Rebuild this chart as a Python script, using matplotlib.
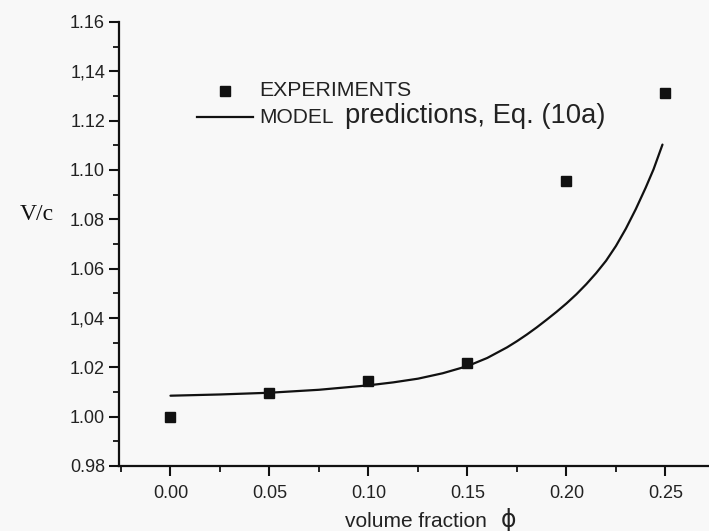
import matplotlib
matplotlib.use("Agg")
import matplotlib.pyplot as plt
from matplotlib.lines import Line2D
from matplotlib.ticker import MultipleLocator

# ---- data ----
exp_phi = [0.00, 0.05, 0.10, 0.15, 0.20, 0.25]
exp_vc = [1.000, 1.0096, 1.0145, 1.0216, 1.0955, 1.1313]

model_phi = [0.0, 0.025, 0.05, 0.075, 0.10, 0.1125, 0.125, 0.1375, 0.15, 0.16,
             0.17, 0.175, 0.18, 0.185, 0.19, 0.195, 0.20, 0.205, 0.21, 0.215,
             0.22, 0.225, 0.23, 0.235, 0.24, 0.244, 0.2485]
model_vc = [1.0085, 1.0090, 1.0097, 1.0109, 1.0127, 1.0139, 1.0154, 1.0176,
            1.0205, 1.0238, 1.0281, 1.0306, 1.0333, 1.0362, 1.0393, 1.0425,
            1.0459, 1.0496, 1.0537, 1.0582, 1.0632, 1.0692, 1.0762, 1.0841,
            1.0928, 1.1003, 1.1103]

x_ticks = [0.00, 0.05, 0.10, 0.15, 0.20, 0.25]
x_ticklabels = ["0.00", "0.05", "0.10", "0.15", "0.20", "0.25"]
y_ticks = [0.98, 1.00, 1.02, 1.04, 1.06, 1.08, 1.10, 1.12, 1.14, 1.16]
y_ticklabels = ["0.98", "1.00", "1.02", "1,04", "1.06", "1.08", "1.10", "1.12", "1,14", "1.16"]

W, H = 709, 531
bg = "#f8f8f8"
fig = plt.figure(figsize=(W / 100, H / 100), dpi=100, facecolor=bg)

def fx(px):
    return px / W

def fy(py):
    return 1 - py / H

ax = fig.add_axes([fx(119), fy(466), 1 - fx(119), fy(22) - fy(466)])
ax.set_facecolor(bg)
ax.set_xlim(-0.026, 0.272)
ax.set_ylim(0.98, 1.16)

for s in ["top", "right"]:
    ax.spines[s].set_visible(False)
for s in ["left", "bottom"]:
    ax.spines[s].set_linewidth(1.6)
    ax.spines[s].set_color("#111111")

ax.plot(model_phi, model_vc, color="#111111", lw=1.6, solid_capstyle="round",
        solid_joinstyle="round")
ax.plot(exp_phi, exp_vc, linestyle="none", marker="s", ms=6.5, color="#111111")

ax.set_xticks(x_ticks)
ax.set_xticklabels(x_ticklabels)
ax.set_yticks(y_ticks)
ax.set_yticklabels(y_ticklabels)
ax.xaxis.set_minor_locator(MultipleLocator(0.025))
ax.yaxis.set_minor_locator(MultipleLocator(0.01))
ax.tick_params(axis="both", which="major", direction="out", length=7, width=1.5,
               color="#111111", labelsize=13, labelcolor="#222222")
ax.tick_params(axis="both", which="minor", direction="out", length=4, width=1.3,
               color="#111111")
ax.tick_params(axis="x", which="major", pad=7)
ax.tick_params(axis="y", which="major", pad=3)
for lab in ax.get_xticklabels() + ax.get_yticklabels():
    lab.set_family("Liberation Sans")

# axis labels
fig.text(fx(37), fy(215), "V/c", family="Liberation Serif", fontsize=17,
         ha="center", va="center", color="#111111")
fig.text(fx(345), fy(527), "volume fraction", family="Liberation Sans", fontsize=15,
         ha="left", va="baseline", color="#222222")
fig.text(fx(508), fy(527), "ϕ", family="DejaVu Sans", fontsize=17,
         ha="center", va="baseline", color="#222222")

# manual legend
fig.add_artist(Line2D([fx(225)], [fy(91)], marker="s", ms=6.5, color="#111111",
                      linestyle="none", transform=fig.transFigure))
fig.text(fx(259), fy(96), "EXPERIMENTS", family="Liberation Sans", fontsize=15.3,
         ha="left", va="baseline", color="#222222")
fig.add_artist(Line2D([fx(197), fx(253)], [fy(117), fy(117)], color="#111111",
                      lw=1.6, transform=fig.transFigure))
fig.text(fx(259), fy(123), "MODEL", family="Liberation Sans", fontsize=15,
         ha="left", va="baseline", color="#222222")
fig.text(fx(345), fy(123), "predictions, Eq. (10a)", family="Liberation Sans",
         fontsize=19.7, ha="left", va="baseline", color="#222222")

fig.savefig("out.png", dpi=100, facecolor=bg)
